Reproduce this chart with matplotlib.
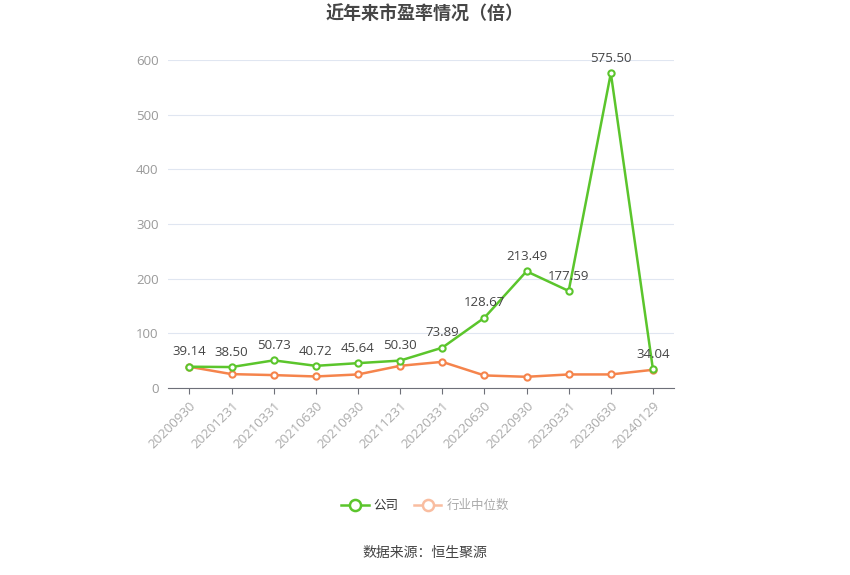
import matplotlib
matplotlib.use("Agg")
import matplotlib.pyplot as plt
from matplotlib.lines import Line2D

plt.rcParams['font.family'] = ['Open Sans', 'Noto Sans CJK SC', 'DejaVu Sans']

dates = ['20200930', '20201231', '20210331', '20210630', '20210930', '20211231',
         '20220331', '20220630', '20220930', '20230331', '20230630', '20240129']
company = [39.14, 38.50, 50.73, 40.72, 45.64, 50.30, 73.89, 128.67, 213.49, 177.59, 575.50, 34.04]
industry = [39.0, 25.6, 23.8, 21.3, 25.0, 40.8, 48.0, 23.2, 20.7, 25.0, 25.0, 33.5]

green = '#5bc52c'
orange = '#f5844c'

fig = plt.figure(figsize=(8.5, 5.75), dpi=100)
ax = fig.add_axes([0.198, 0.325, 0.595, 0.571])

x = range(len(dates))
ax.plot(x, industry, color=orange, lw=1.8, marker='o', ms=4.5,
        mfc='white', mec=orange, mew=1.5, zorder=3)
ax.plot(x, company, color=green, lw=1.8, marker='o', ms=4.5,
        mfc='white', mec=green, mew=1.5, zorder=4)

for i, v in enumerate(company):
    ax.annotate(f'{v:.2f}', (i, v), xytext=(0, 6), textcoords='offset points',
                ha='center', va='bottom', fontsize=9.5, color='#444444', zorder=5)

ax.set_xlim(-0.5, len(dates) - 0.5)
ax.set_ylim(0, 600)
ax.set_yticks(range(0, 601, 100))
ax.set_xticks(list(x))
ax.set_xticklabels(dates, rotation=45, ha='right', rotation_mode='anchor')
ax.tick_params(axis='x', colors='#aaaaaa', labelsize=9.5, length=4, pad=4)
ax.tick_params(axis='x', color='#6e7079')
ax.tick_params(axis='y', colors='#999999', labelsize=9.5, length=0, pad=7)
ax.grid(axis='y', color='#e0e6f1', lw=0.8)
ax.set_axisbelow(True)
for s in ['top', 'right', 'left']:
    ax.spines[s].set_visible(False)
ax.spines['bottom'].set_color('#6e7079')

fig.text(0.5, 0.974, '近年来市盈率情况（倍）', ha='center', va='center',
         fontsize=13, fontweight='bold', color='#464646')

handles = [
    Line2D([], [], color=green, lw=1.8, marker='o', ms=8, mfc='white', mec=green, mew=1.8),
    Line2D([], [], color='#f9bda0', lw=1.8, marker='o', ms=8, mfc='white', mec='#f9bda0', mew=1.8),
]
leg = fig.legend(handles, ['公司', '行业中位数'], loc='center', bbox_to_anchor=(0.5, 0.121),
                 ncol=2, frameon=False, fontsize=9, handlelength=2.2, columnspacing=1.2,
                 handletextpad=0.4)
leg.get_texts()[0].set_color('#333333')
leg.get_texts()[1].set_color('#aaaaaa')

fig.text(0.5, 0.038, '数据来源：恒生聚源', ha='center', va='center', fontsize=10, color='#444444')

fig.savefig('out.png', dpi=100)
